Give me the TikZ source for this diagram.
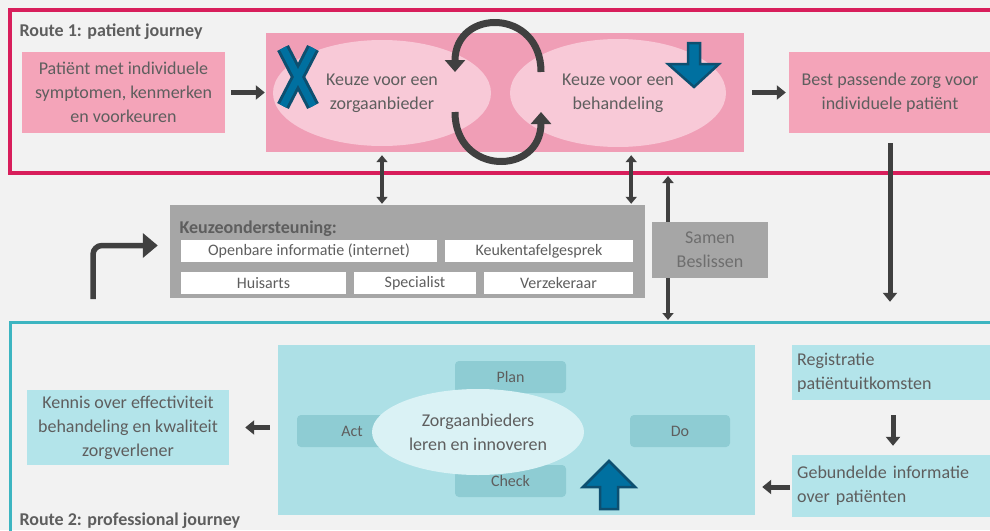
\documentclass[tikz,border=0pt]{standalone}
\usepackage{fontspec}
\setmainfont{Carlito}
\usepackage{tikz}
\usetikzlibrary{arrows,arrows.meta,positioning,shapes,calc}
\definecolor{bgc}{HTML}{F2F2F2}
\definecolor{routeone}{HTML}{D81E5B}
\definecolor{routetwo}{HTML}{3DB5C1}
\definecolor{pinkbox}{HTML}{F4A4B9}
\definecolor{pinkpanel}{HTML}{F09EB6}
\definecolor{pinkell}{HTML}{F8C9D7}
\definecolor{tealbox}{HTML}{B3E4EA}
\definecolor{tealpanel}{HTML}{ADE0E6}
\definecolor{tealstep}{HTML}{8ECCD3}
\definecolor{tealell}{HTML}{DAF2F5}
\definecolor{grayboxc}{HTML}{A6A6A6}
\definecolor{arrc}{HTML}{404040}
\definecolor{bluefill}{HTML}{0070A0}
\definecolor{blueline}{HTML}{0D4F70}
\definecolor{txt}{HTML}{5E5E5E}

\begin{document}
\begin{tikzpicture}[x=1pt, y=-1pt, font=\fontsize{18}{24}\selectfont, text=txt,
  box/.style={inner sep=0pt, align=center},
  white box/.style={box, fill=white, minimum height=22pt, font=\fontsize{16}{18}\selectfont},
  pdca/.style={box, fill=tealstep, rounded corners=4pt, minimum height=32pt, font=\fontsize{16}{18}\selectfont},
  arr/.style={-{Triangle[length=9pt,width=14pt]}, line width=5pt, draw=arrc},
  dbl/.style={{Triangle[length=7pt,width=11pt]}-{Triangle[length=7pt,width=11pt]}, line width=3.5pt, draw=arrc},
  cyc/.style={-{Triangle[length=12pt,width=20pt]}, line width=7pt, draw=arrc},
  blue/.style={fill=bluefill, draw=blueline, line width=2.5pt, line join=miter}]
\fill[bgc] (0,0) rectangle (990,530);
\useasboundingbox (0,0) rectangle (990,530);
\clip (0,0) rectangle (990,530);

% route 1
\draw[routeone, line width=4pt] (10,10) rectangle (1010,173);
\node[anchor=base west, font=\bfseries\fontsize{18}{20}\selectfont] (title1) at (16,36) {Route 1: patient journey};
\node[box, fill=pinkbox, minimum width=203pt, minimum height=81pt] (patient) at (123.5,92.5) {Patiënt met individuele\\symptomen, kenmerken\\en voorkeuren};
\node[box, fill=pinkpanel, minimum width=478pt, minimum height=119pt] (panel) at (505,92.5) {};
\node[ellipse, fill=pinkell, minimum width=218pt, minimum height=106pt, inner sep=0pt, align=center] (zorg) at (382,93) {Keuze voor een\\zorgaanbieder};
\node[ellipse, fill=pinkell, minimum width=216pt, minimum height=108pt, inner sep=0pt, align=center] (behandeling) at (618,93) {Keuze voor een\\behandeling};
\node[box, fill=pinkbox, minimum width=202pt, minimum height=81pt] (best) at (890,92.5) {Best passende zorg voor\\individuele patiënt};
\draw[arr, shorten <=6pt, shorten >=1pt] (patient) -- (panel);
\draw[arr, shorten <=8pt, shorten >=3pt] (panel) -- (best);
% cycle between the two choices
\draw[cyc] (541,72) .. controls (541,8) and (455,8) .. (455,72);
\draw[cyc] (455,112) .. controls (455,176) and (541,176) .. (541,112);
% blue marks
\draw[blueline, line width=13pt] (283,48) -- (313,106) (313,48) -- (283,106);
\draw[bluefill, line width=7pt] (283,48) -- (313,106) (313,48) -- (283,106);
\draw[blue] (688,43) -- (700,43) -- (700,64) -- (719,64) -- (694,87) -- (668,64) -- (688,64) -- cycle;

% keuzeondersteuning
\node[box, fill=grayboxc, minimum width=475pt, minimum height=93pt] (keuze) at (407.5,251.5) {};
\node[anchor=base west, font=\bfseries\fontsize{18}{20}\selectfont] (keuzetitle) at (176,233) {Keuzeondersteuning:};
\node[white box, minimum width=256pt] (info) at (309,251) {Openbare informatie (internet)};
\node[white box, minimum width=188pt] (keuken) at (539,251) {Keukentafelgesprek};
\node[white box, minimum width=165pt] (huisarts) at (263.5,283) {Huisarts};
\node[white box, minimum width=122pt] (specialist) at (415,283) {Specialist};
\node[white box, minimum width=149pt] (verzekeraar) at (558.5,283) {Verzekeraar};
\draw[dbl, shorten <=3pt, shorten >=1pt] (zorg |- panel.south) -- (zorg |- keuze.north);
\draw[dbl, shorten <=3pt, shorten >=1pt] ([xshift=-2pt]keuken.east |- panel.south) -- ([xshift=-2pt]keuken.east |- keuze.north);
\coordinate (samentop) at (668,176);
\coordinate (samenbottom) at (668,320);
\draw[dbl] (samentop) -- (samenbottom);
\node[box, fill=grayboxc, minimum width=116pt, minimum height=56pt, text=txt!90!white] (samen) at (710,250) {Samen\\Beslissen};
\coordinate (bend) at (93,299);
\draw[-{Triangle[length=15pt,width=24pt]}, line width=5.5pt, draw=arrc, rounded corners=9pt, shorten >=12pt] (bend) |- ([yshift=6pt]keuze.west);

% route 2
\draw[routetwo, line width=3pt] (10,322) rectangle (1010,560);
\node[anchor=base west, font=\bfseries\fontsize{18}{20}\selectfont] (title2) at (16,525) {Route 2: professional journey};
\node[box, fill=tealbox, minimum width=198pt, minimum height=55pt, align=left, anchor=west, text width=188pt] (registratie) at (792,372.5) {Registratie\\patiëntuitkomsten};
\node[box, fill=tealbox, minimum width=198pt, minimum height=62pt, align=left, anchor=west, text width=188pt] (gebundeld) at (792,486) {Gebundelde informatie\\over patiënten};
\node[box, fill=tealpanel, minimum width=477pt, minimum height=170pt] (pdcapanel) at (516.5,430) {};
\node[pdca, minimum width=111pt] (plan) at (510.5,377) {Plan};
\node[pdca, minimum width=110pt] (act) at (352,431) {Act};
\node[pdca, minimum width=100pt] (do) at (680,431) {Do};
\node[pdca, minimum width=111pt] (check) at (510.5,481) {Check};
\node[ellipse, fill=tealell, minimum width=212pt, minimum height=86pt, inner sep=0pt, align=center] (leren) at (478,432) {Zorgaanbieders\\leren en innoveren};
\node[box, fill=tealbox, minimum width=202pt, minimum height=75pt] (kennis) at (128,427.5) {Kennis over effectiviteit\\behandeling en kwaliteit\\zorgverlener};
\draw[blue] (609,461) -- (635,487) -- (618,487) -- (618,509) -- (600,509) -- (600,487) -- (583,487) -- cycle;
\draw[arr, shorten <=10pt, shorten >=43pt] (best.south) -- (registratie.north -| best.south);
\draw[arr, shorten <=15pt, shorten >=9pt] (registratie.south -| 893,0) -- (gebundeld.north -| 893,0);
\draw[arr, shorten <=2pt, shorten >=7pt] (gebundeld.west |- 0,487) -- (pdcapanel.east |- 0,487);
\draw[arr, shorten <=8pt, shorten >=16pt] (pdcapanel.west |- kennis) -- (kennis.east);
\end{tikzpicture}
\end{document}
